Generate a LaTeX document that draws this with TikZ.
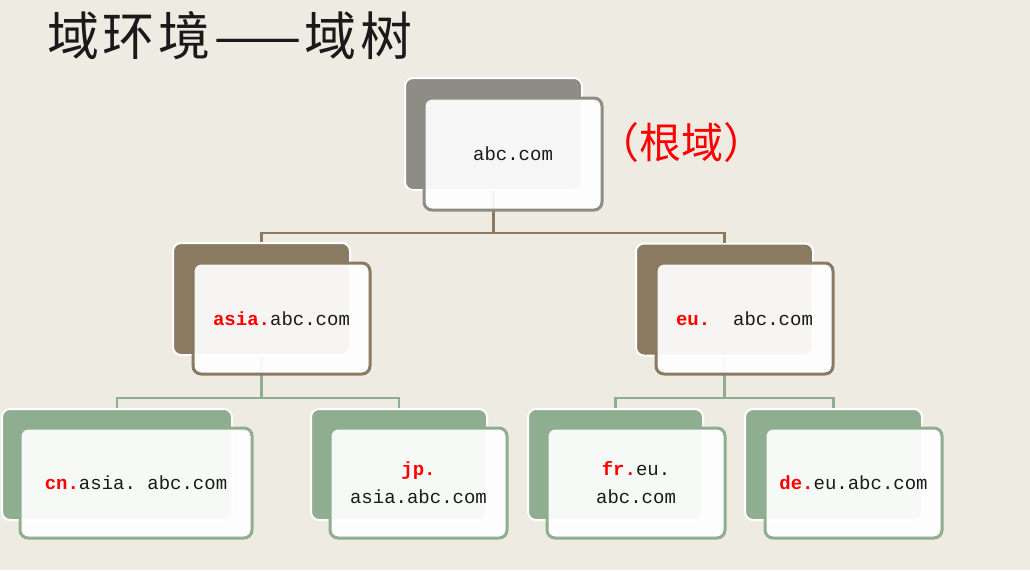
\documentclass[tikz,border=0pt]{standalone}
\usepackage{fontspec}
\newfontfamily\mono{Liberation Mono}
\newfontfamily\cjk{Noto Sans CJK SC}
\newfontfamily\cjktitle[LetterSpace=7]{Noto Sans CJK SC}
\definecolor{bg}{HTML}{EEEBE3}
\definecolor{grayb}{HTML}{8D8D85}
\definecolor{brownb}{HTML}{8A7A61}
\definecolor{greenb}{HTML}{8FAD8F}
\definecolor{ink}{HTML}{1A1A1A}
\tikzset{
  backbox/.style={rectangle, rounded corners=8pt, draw=white, line width=2pt, inner sep=0pt},
  frontbox/.style={rectangle, rounded corners=8pt, line width=3pt, inner sep=0pt,
     fill=white, fill opacity=0.93, text opacity=1, align=center,
     font=\mono\fontsize{19}{28}\selectfont, text=ink},
  conn/.style={line width=2.5pt}
}
\newcommand\hlt[1]{\textcolor{red}{\textbf{#1}}}
\begin{document}
\begin{tikzpicture}[x=1pt,y=-1pt]
\fill[bg] (0,0) rectangle (1030,570);
\useasboundingbox (0,0) rectangle (1030,570);
% title
\node[anchor=west, inner sep=0pt, font=\cjktitle\fontsize{52}{58}\selectfont, text=ink] (title) at (47,36) {域环境——域树};
\node[anchor=west, inner sep=0pt, font=\cjk\fontsize{42}{46}\selectfont, text=red] (rootlbl) at (597,143) {（根域）};
% coordinates for buses
\coordinate (bus1) at (493.5,233);
\coordinate (bus2) at (261.5,398);
\coordinate (bus3) at (724.5,398);
% back boxes
\node[backbox, fill=grayb, minimum width=177pt, minimum height=112pt] (rootb) at (493.5,134) {};
\node[backbox, fill=brownb, minimum width=177pt, minimum height=112pt] (asiab) at (261.5,299) {};
\node[backbox, fill=brownb, minimum width=177pt, minimum height=112pt] (eub) at (724.5,299.5) {};
\node[backbox, fill=greenb, minimum width=230pt, minimum height=111pt] (cnb) at (117,464.5) {};
\node[backbox, fill=greenb, minimum width=176pt, minimum height=111pt] (jpb) at (399,464.5) {};
\node[backbox, fill=greenb, minimum width=175pt, minimum height=111pt] (frb) at (615.5,464.5) {};
\node[backbox, fill=greenb, minimum width=177pt, minimum height=111pt] (deb) at (833.5,464.5) {};
% connectors
\draw[conn, brownb] (rootb.south) -- (bus1) -| (asiab.north);
\draw[conn, brownb] (bus1) -| (eub.north);
\draw[conn, greenb] (asiab.south) -- (bus2) -| (cnb.north);
\draw[conn, greenb] (bus2) -| (jpb.north);
\draw[conn, greenb] (eub.south) -- (bus3) -| (frb.north);
\draw[conn, greenb] (bus3) -| (deb.north);
% front boxes
\node[frontbox, draw=grayb, minimum width=178pt, minimum height=112pt] (root) at (513,154) {abc.com};
\node[frontbox, draw=brownb, minimum width=177pt, minimum height=111pt] (asia) at (281.5,318.5) {\hlt{asia.}abc.com};
\node[frontbox, draw=brownb, minimum width=177pt, minimum height=111pt] (eu) at (744.5,318.5) {\hlt{eu.}\ \ abc.com};
\node[frontbox, draw=greenb, minimum width=232pt, minimum height=110pt] (cn) at (136,483) {\hlt{cn.}asia.\ abc.com};
\node[frontbox, draw=greenb, minimum width=177pt, minimum height=110pt] (jp) at (418.5,483) {\hlt{jp.}\\asia.abc.com};
\node[frontbox, draw=greenb, minimum width=178pt, minimum height=110pt] (fr) at (636,483) {\hlt{fr.}eu.\\abc.com};
\node[frontbox, draw=greenb, minimum width=177pt, minimum height=110pt] (de) at (853.5,483) {\hlt{de.}eu.abc.com};
\end{tikzpicture}
\end{document}
